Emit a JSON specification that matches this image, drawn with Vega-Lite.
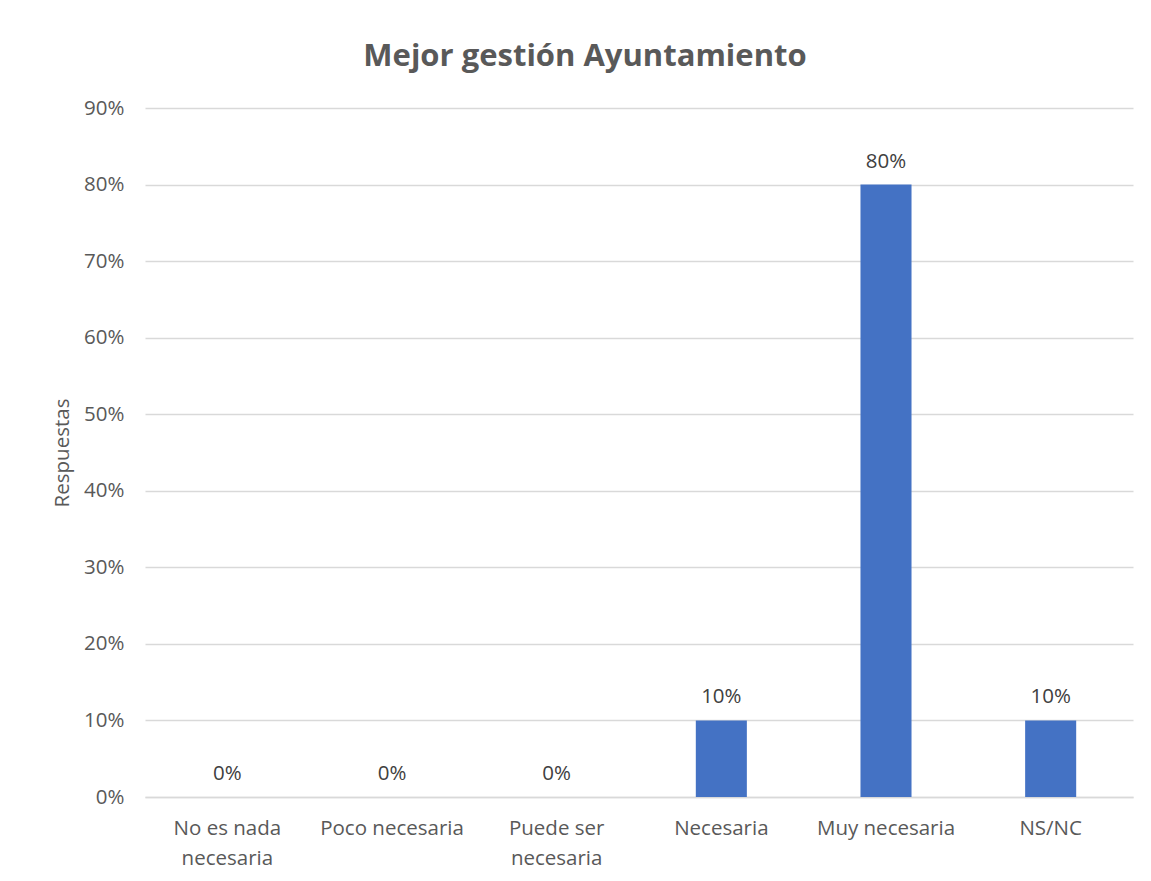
{
  "$schema": "https://vega.github.io/schema/vega-lite/v6.json",
  "width": 988,
  "height": 689,
  "autosize": {"type": "none"},
  "padding": {"left": 145, "top": 108, "right": 18, "bottom": 84},
  "background": "white",
  "title": {
    "text": "Mejor gestión Ayuntamiento",
    "font": "Open Sans",
    "fontSize": 31,
    "fontWeight": "bold",
    "color": "#595959",
    "anchor": "middle",
    "frame": "group",
    "dx": -54,
    "offset": 25
  },
  "data": {
    "values": [
      {"categoria": "No es nada necesaria", "valor": 0},
      {"categoria": "Poco necesaria", "valor": 0},
      {"categoria": "Puede ser necesaria", "valor": 0},
      {"categoria": "Necesaria", "valor": 0.1},
      {"categoria": "Muy necesaria", "valor": 0.8},
      {"categoria": "NS/NC", "valor": 0.1}
    ]
  },
  "config": {
    "view": {"stroke": null},
    "font": "Open Sans"
  },
  "encoding": {
    "x": {
      "field": "categoria",
      "type": "nominal",
      "sort": null,
      "scale": {"paddingInner": 0.69, "paddingOuter": 0.345},
      "axis": {
        "title": null,
        "labelAngle": 0,
        "labelFont": "Open Sans",
        "labelFontSize": 20.5,
        "labelColor": "#595959",
        "labelPadding": 21,
        "labelLineHeight": 30,
        "labelBaseline": "top",
        "ticks": false,
        "domain": true,
        "domainColor": "#d9d9d9",
        "domainWidth": 1.5,
        "grid": false,
        "labelExpr": "datum.label == 'No es nada necesaria' ? ['No es nada', 'necesaria'] : datum.label == 'Puede ser necesaria' ? ['Puede ser', 'necesaria'] : datum.label"
      }
    },
    "y": {
      "field": "valor",
      "type": "quantitative",
      "scale": {"domain": [0, 0.9], "nice": false},
      "axis": {
        "title": "Respuestas",
        "titleFont": "Open Sans",
        "titleFontSize": 20.5,
        "titleFontWeight": "normal",
        "titleColor": "#595959",
        "titlePadding": 11,
        "format": ".0%",
        "values": [0, 0.1, 0.2, 0.3, 0.4, 0.5, 0.6, 0.7, 0.8, 0.9],
        "labelFont": "Open Sans",
        "labelFontSize": 20.5,
        "labelColor": "#595959",
        "labelPadding": 21,
        "ticks": false,
        "domain": false,
        "grid": true,
        "gridColor": "#d9d9d9",
        "gridWidth": 1.5
      }
    }
  },
  "layer": [
    {"mark": {"type": "bar", "color": "#4472C4"}},
    {
      "mark": {
        "type": "text",
        "baseline": "bottom",
        "dy": -13,
        "font": "Open Sans",
        "fontSize": 20.5,
        "color": "#404040"
      },
      "encoding": {
        "text": {"field": "valor", "type": "quantitative", "format": ".0%"}
      }
    }
  ]
}
